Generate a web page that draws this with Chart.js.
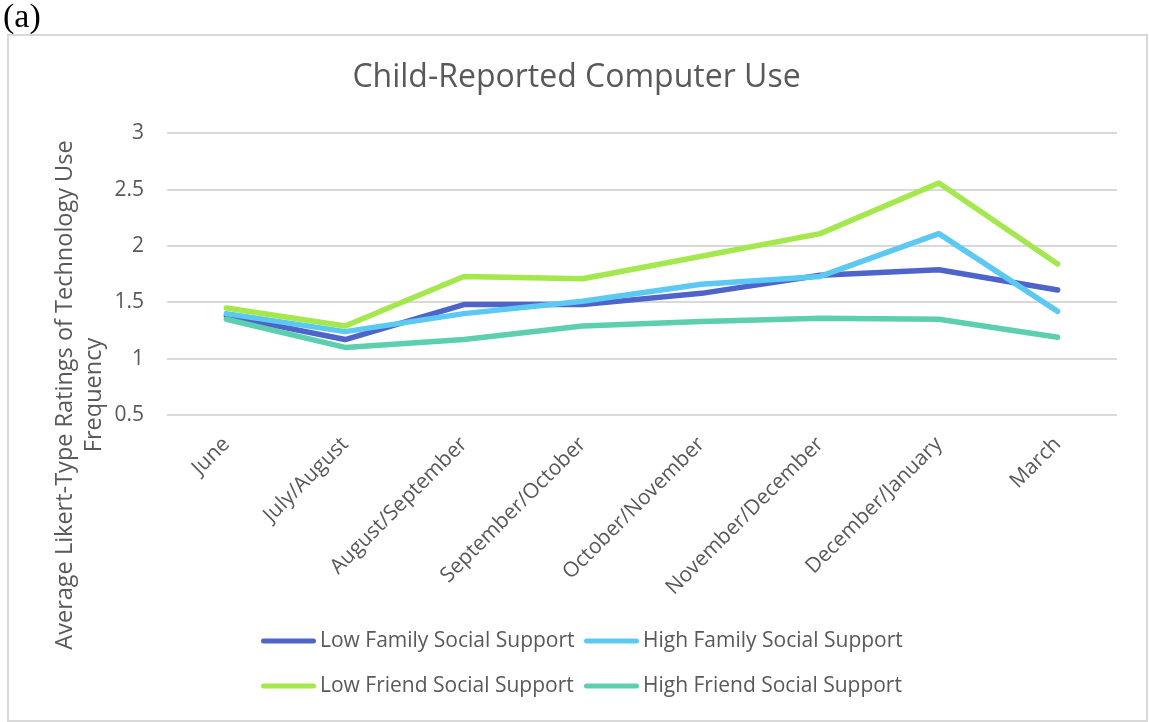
<!DOCTYPE html>
<html>
<head>
<meta charset="utf-8">
<title>Child-Reported Computer Use</title>
<script src="https://cdn.jsdelivr.net/npm/chart.js@4.4.0/dist/chart.umd.min.js"></script>
<style>
  html, body { margin: 0; padding: 0; background: #fff; }
  #frame { position: absolute; left: 7px; top: 34px; width: 1141px; height: 688px; box-sizing: border-box; border: 2px solid #d9d9d9; }
  #wrap { position: absolute; left: 0; top: 0; width: 1149px; height: 722px; }
</style>
</head>
<body>
<div id="frame"></div>
<div id="wrap"><canvas id="chart"></canvas></div>
<script>
"use strict";

//--データ--
const months = [
    'June',
    'July/August',
    'August/September',
    'September/October',
    'October/November',
    'November/December',
    'December/January',
    'March',
];
const seriesNames = [
    'Low Family Social Support',
    'High Family Social Support',
    'Low Friend Social Support',
    'High Friend Social Support',
];
const lowFamily  = [1.38, 1.17, 1.48, 1.48, 1.58, 1.74, 1.79, 1.61];
const highFamily = [1.40, 1.24, 1.40, 1.51, 1.66, 1.73, 2.11, 1.42];
const lowFriend  = [1.45, 1.29, 1.73, 1.71, 1.91, 2.11, 2.56, 1.84];
const highFriend = [1.35, 1.10, 1.17, 1.29, 1.33, 1.36, 1.35, 1.19];
const yTicks = [0.5, 1, 1.5, 2, 2.5, 3];
const yTickLabels = ['0.5', '1', '1.5', '2', '2.5', '3'];

const colors = ['#4e64c8', '#5bc9f2', '#a4e84e', '#5ccfae'];
const textGray = '#595959';
const fontName = "'Open Sans', 'DejaVu Sans', sans-serif";

//--系列--
const datasets = [lowFamily, highFamily, lowFriend, highFriend].map(function(vals, i){
    return {
        label: seriesNames[i],
        data: vals,
        borderColor: colors[i],
        backgroundColor: colors[i],
        borderWidth: 5.5,
        borderCapStyle: 'round',
        borderJoinStyle: 'round',
        pointRadius: 0,
        pointHoverRadius: 0,
        tension: 0,
        fill: false,
        order: 3 - i,   // Excelと同じく後の系列を上に
    };
});

//--軸タイトル・凡例・(a)を描く--
const extraText = {
    id: 'extraText',
    afterDraw(chart) {
        const ctx = chart.ctx;
        ctx.save();

        // (a)
        ctx.fillStyle = '#000';
        ctx.font = "34px 'Liberation Serif', 'Times New Roman', serif";
        ctx.textAlign = 'left';
        ctx.textBaseline = 'alphabetic';
        ctx.fillText('(a)', 3, 27);

        // 縦軸タイトル
        ctx.fillStyle = textGray;
        ctx.font = '23.5px ' + fontName;
        ctx.textAlign = 'center';
        const yTitle = ['Average Likert-Type Ratings of Technology Use', 'Frequency'];
        const baseX = [72, 101];
        yTitle.forEach(function(line, i){
            ctx.save();
            ctx.translate(baseX[i], 395);
            ctx.rotate(-Math.PI / 2);
            ctx.fillText(line, 0, 0);
            ctx.restore();
        });

        // 凡例 (2x2)
        const colX = [261, 584];
        const rowY = [641, 686];
        ctx.font = '21px ' + fontName;
        ctx.textAlign = 'left';
        ctx.textBaseline = 'middle';
        chart.data.datasets.forEach(function(ds, i){
            const x = colX[i % 2];
            const y = rowY[Math.floor(i / 2)];
            ctx.strokeStyle = ds.borderColor;
            ctx.lineWidth = 5;
            ctx.lineCap = 'round';
            ctx.beginPath();
            ctx.moveTo(x + 2.5, y);
            ctx.lineTo(x + 52.5, y);
            ctx.stroke();
            ctx.fillStyle = textGray;
            ctx.fillText(ds.label, x + 59, y);
        });

        ctx.restore();
    }
};

const config = {
    type: 'line',
    data: {
        labels: months,
        datasets: datasets,
    },
    options: {
        responsive: true,
        maintainAspectRatio: false,
        animation: false,
        devicePixelRatio: 1,
        layout: {
            padding: { left: 36, right: 32, top: 0, bottom: 0 },
        },
        scales: {
            x: {
                offset: true,
                grid: { display: false, drawTicks: false, offset: true },
                border: { display: false },
                ticks: {
                    autoSkip: false,
                    minRotation: 45,
                    maxRotation: 45,
                    padding: 17,
                    color: textGray,
                    font: { family: fontName, size: 21 },
                },
                afterFit(scale) { scale.height = 307; },
            },
            y: {
                min: yTicks[0],
                max: yTicks[yTicks.length - 1],
                afterBuildTicks(scale) {
                    scale.ticks = yTicks.map(function(v){ return { value: v }; });
                },
                grid: { color: '#d9d9d9', lineWidth: 2, drawTicks: false },
                border: { display: false },
                ticks: {
                    padding: 23,
                    color: textGray,
                    font: { family: fontName, size: 21 },
                    callback: function(value, index){ return yTickLabels[index]; },
                },
                afterFit(scale) { scale.width = 131; },
            },
        },
        plugins: {
            legend: { display: false },
            tooltip: { enabled: false },
            title: {
                display: true,
                text: 'Child-Reported Computer Use',
                color: textGray,
                font: { family: fontName, size: 32, weight: 'normal', lineHeight: 1.2 },
                padding: { top: 59, bottom: 36 },
            },
        },
    },
    plugins: [extraText],
};

document.fonts.ready.then(function(){
    new Chart(document.getElementById('chart'), config);
});
</script>
</body>
</html>
